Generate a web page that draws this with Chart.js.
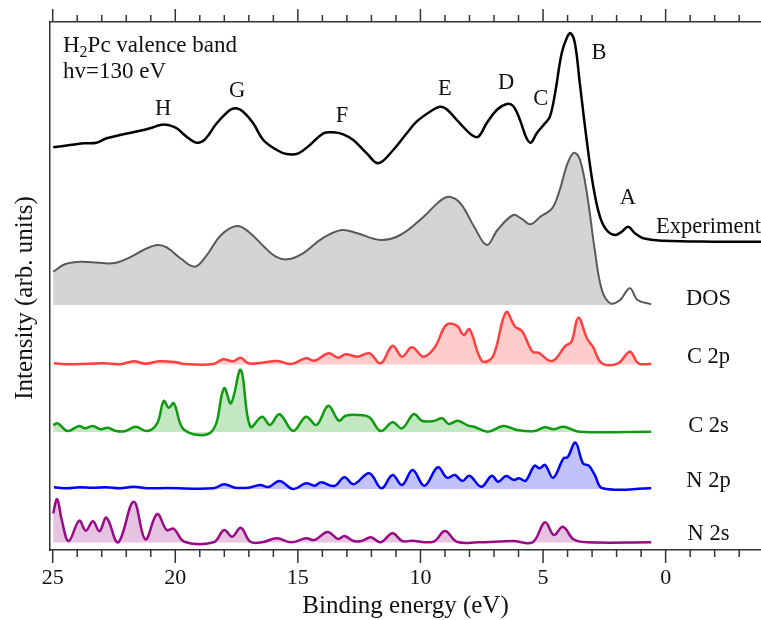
<!DOCTYPE html>
<html>
<head>
<meta charset="utf-8">
<script src="https://cdn.jsdelivr.net/npm/chart.js@4.4.0/dist/chart.umd.min.js"></script>
<style>
  html, body { margin: 0; padding: 0; background: #fff; }
  #wrap { width: 761px; height: 620px; }
</style>
</head>
<body>
<div id="wrap"><canvas id="vbChart" width="761" height="620"></canvas></div>
<script>
// binding energy (eV) / intensity (arb. units, curves stacked with offsets)
const expEnergy = [24.98,24.29,23.75,23.21,22.80,22.12,21.44,21.03,20.62,20.29,19.94,19.54,19.13,18.79,18.31,17.77,17.50,17.23,16.82,16.41,15.86,15.46,14.98,14.51,13.96,13.56,13.15,12.74,12.19,11.72,11.11,10.56,10.16,9.61,9.20,8.93,8.39,7.91,7.64,7.30,6.89,6.48,6.22,5.94,5.67,5.49,5.26,4.92,4.72,4.51,4.24,4.01,3.87,3.70,3.50,3.22,2.95,2.68,2.41,2.07,1.79,1.53,1.25,0.91,0.10,-1.94,-3.9];
const expIntensity = [402.7,405,406.7,407.3,411.7,415.7,419.3,421.7,425,425,421.7,413.3,407.3,410.7,426.7,440,441.7,438.3,426.7,410,400,396,396.7,405,416.7,417.7,415.7,410,396.7,386.7,400,416.7,428.3,438.3,443.3,440.7,426.7,415,413.3,426.7,440,446,444,430,411.7,407.3,416.7,426.7,433.3,456.7,496.7,513.3,516.7,506.7,466.7,410,363.3,333.3,320,315,318.3,323.3,316.7,311.7,309.3,308.3,308.3];

const dosEnergy = [24.98,24.48,23.84,22.57,21.94,21.30,20.74,20.35,19.79,19.21,18.76,18.13,17.49,17.01,16.38,15.90,15.43,14.79,14.00,13.21,12.57,11.62,10.82,9.87,9.24,8.84,8.37,7.81,7.29,6.86,6.22,5.90,5.51,5.11,4.63,4.32,4.00,3.73,3.49,3.21,2.89,2.60,2.25,1.86,1.46,1.14,0.59];
const dosIntensity = [278.3,286,288.3,286.7,291.7,300,305,302.7,291.7,283.3,293.3,315,324,318.3,303.3,293.3,290.7,296.7,311.7,320,316.7,310,315,333.3,348.3,353.3,346.7,323.3,305,320,335,331.7,325.7,333.3,341.7,360,386.7,397.3,390,356.7,300,260,246.7,250,261.7,250,245.7];

const c2pEnergy = [24.95,24.32,23.52,22.89,22.25,21.70,21.22,20.67,20.03,19.63,18.44,18.05,17.65,17.33,17.02,16.46,15.82,15.27,14.67,14.32,13.75,13.36,13.05,12.57,12.09,11.62,11.14,10.75,10.35,9.87,9.40,8.95,8.52,8.24,8.00,7.49,7.05,6.51,6.14,5.86,5.43,5.19,4.63,4.08,3.84,3.56,3.21,2.97,2.60,1.94,1.46,1.11,0.59];
const c2pIntensity = [186.7,185.7,186.3,186.7,185.7,188.7,186.3,188.7,188,186,186,190.7,188.7,192.3,186.7,187.3,189,186,191.7,189.3,196.7,192.3,195.7,193.3,196.7,186.7,204.3,193.3,202.7,193.3,203.3,225,224.3,215,220.7,189,193.3,237.7,223.3,219,198.3,197.3,189,204.3,208.3,232.3,211.7,203.3,186.7,186.7,198.3,186.7,186];

const c2sEnergy = [24.98,24.79,24.40,23.92,23.68,23.36,23.05,22.76,22.41,22.02,21.62,21.14,20.74,20.47,20.27,20.06,19.63,18.52,18.01,17.73,17.33,16.94,16.46,16.14,15.75,15.19,14.67,14.24,13.76,13.33,13.05,12.57,12.09,11.62,11.14,10.75,10.27,9.95,9.47,9.11,8.84,8.48,8.05,7.81,7.25,6.62,6.06,5.35,4.92,4.56,4.16,3.52,0.59];
const c2sIntensity = [125,126.7,119,124,121.7,124,120.7,122.3,119,119,123.3,119,126.7,149,142.3,146.7,120,118.3,161.7,146.7,180,123.3,133.3,125,135.7,119,133.3,125,144.3,129.3,134.3,135,132.7,119,127.7,121.7,136,129.3,129,131.7,126,129.3,124.3,123.3,118.3,124,120,119,122.7,120.7,123.3,118.3,118.3];

const n2pEnergy = [24.95,24.40,23.92,23.36,22.81,22.25,21.70,21.14,20.35,18.44,18.01,17.57,17.02,16.54,16.19,15.75,15.19,14.67,14.32,14.05,13.52,13.10,12.73,12.09,11.59,11.14,10.75,10.32,9.84,9.29,8.92,8.60,8.29,8.00,7.52,7.09,6.83,6.51,6.19,5.98,5.71,5.35,5.14,4.92,4.59,4.16,4.00,3.68,3.37,3.13,2.89,2.57,0.59];
const n2pIntensity = [62.7,61.7,62.7,62.3,62.7,61.7,63.3,61.7,62,61.7,65.7,62.3,62.3,65,63,69,61,66.7,64.3,67.7,64,72.7,65.7,76.7,61.7,75,65,80,64.3,82.7,72.3,75,69,74.3,63.3,74.3,68.3,74,70,71.7,69.3,84.3,81.7,85,72.3,91.7,92.7,107.3,86.7,84.3,75,61.7,61.7];

const n2sEnergy = [24.98,24.82,24.63,24.35,23.92,23.65,23.36,23.09,22.81,22.33,21.70,21.22,20.74,20.35,20.06,19.63,18.44,18.01,17.68,17.33,16.94,16.46,15.86,15.27,14.67,14.32,13.79,13.36,13.10,12.73,12.41,12.02,11.62,11.14,10.75,10.35,9.47,9.00,8.52,7.65,6.22,5.43,4.92,4.56,4.19,3.76,3.21,0.59];
const n2sIntensity = [36.7,50.7,30,9,29.3,19.3,28.7,18.7,32.3,7.7,48.3,10.7,36,20,21.3,8.3,7.7,20,13.3,22.3,8.3,7.7,11.7,7.7,11.7,10,18,11,14,9,9,12.7,7.7,16.7,9,9.3,8.3,19,8.3,7.7,9,7.7,27.7,15,23.3,10.7,7.7,7.7];

// baseline of each stacked curve
const baselines = { dos: 245, c2p: 185.5, c2s: 118, n2p: 61, n2s: 7.5 };
// the DOS shading stops after the main band edge
const dosFillEnd = 2.3;

const tickValues = [25,24,23,22,21,20,19,18,17,16,15,14,13,12,11,10,9,8,7,6,5,4,3,2,1,0,-1,-2,-3];
const majorTicks = [25,20,15,10,5,0];

const peakLabels = ['H','G','F','E','D','C','B','A'];
const peakEnergy = [20.50,17.48,13.20,9.00,6.51,5.09,2.72,1.54];
const peakLevel = [435,453,428,455,461,445,491,346];

const curveNames = ['Experiment','DOS','C 2p','C 2s','N 2p','N 2s'];
const curveNameLevel = [317,245,187,118,63,10];

const SERIF = '"Liberation Serif", "Times New Roman", serif';

function curve(energy, intensity) {
  return energy.map((e, i) => ({ x: e, y: intensity[i] }));
}

const tickMarks = {
  id: 'tickMarks',
  afterDraw(chart) {
    const ctx = chart.ctx, area = chart.chartArea, xs = chart.scales.x;
    ctx.save();
    ctx.strokeStyle = '#333';
    ctx.lineWidth = 1.5;
    tickValues.forEach(v => {
      const px = xs.getPixelForValue(v);
      const len = majorTicks.includes(v) ? 13 : 7;
      ctx.beginPath();
      ctx.moveTo(px, area.bottom); ctx.lineTo(px, area.bottom + len);
      ctx.moveTo(px, area.top); ctx.lineTo(px, area.top - len);
      ctx.stroke();
    });
    ctx.restore();
  }
};

const textLabels = {
  id: 'textLabels',
  afterDatasetsDraw(chart) {
    const ctx = chart.ctx, xs = chart.scales.x, ys = chart.scales.y;
    ctx.save();
    ctx.fillStyle = '#111';
    ctx.font = '22.5px ' + SERIF;
    ctx.textBaseline = 'alphabetic';
    ctx.textAlign = 'center';
    peakLabels.forEach((t, i) => ctx.fillText(t, xs.getPixelForValue(peakEnergy[i]), ys.getPixelForValue(peakLevel[i])));
    curveNames.forEach((t, i) => ctx.fillText(t, xs.getPixelForValue(-1.75), ys.getPixelForValue(curveNameLevel[i])));

    // header text, top-left
    ctx.textAlign = 'left';
    ctx.font = '23px ' + SERIF;
    let x = xs.getPixelForValue(24.58);
    const y1 = ys.getPixelForValue(498), y2 = ys.getPixelForValue(472);
    ctx.fillText('H', x, y1);
    x += ctx.measureText('H').width;
    ctx.font = '16px ' + SERIF;
    ctx.fillText('2', x, y1 + 5);
    x += ctx.measureText('2').width;
    ctx.font = '23px ' + SERIF;
    ctx.fillText('Pc valence band', x, y1);
    ctx.fillText('hv=130 eV', xs.getPixelForValue(24.58), y2);

    // y axis title
    ctx.font = '25px ' + SERIF;
    ctx.textAlign = 'center';
    ctx.textBaseline = 'middle';
    ctx.translate(25, 298);
    ctx.rotate(-Math.PI / 2);
    ctx.fillText('Intensity (arb. units)', 0, 0);
    ctx.restore();
  }
};

function lineSet(label, data, color, width, fillValue, fillColor) {
  return {
    label, data,
    borderColor: color, borderWidth: width,
    backgroundColor: fillColor || 'transparent',
    fill: fillValue === null ? false : { value: fillValue },
    pointRadius: 0, tension: 0.38
  };
}

const dosSet = lineSet('DOS', curve(dosEnergy, dosIntensity), '#595959', 2, baselines.dos, '#d4d4d4');
dosSet.segment = { backgroundColor: c => c.p0.parsed.x < dosFillEnd ? 'rgba(255,255,255,0)' : undefined };

new Chart(document.getElementById('vbChart'), {
  type: 'line',
  data: {
    datasets: [
      lineSet('Experiment', curve(expEnergy, expIntensity), '#000', 2.5, null),
      dosSet,
      lineSet('C 2p', curve(c2pEnergy, c2pIntensity), '#ff4040', 2.5, baselines.c2p, '#ffcccc'),
      lineSet('C 2s', curve(c2sEnergy, c2sIntensity), '#109a10', 2.5, baselines.c2s, '#c3e6c3'),
      lineSet('N 2p', curve(n2pEnergy, n2pIntensity), '#0000ff', 2.5, baselines.n2p, '#c2c2fa'),
      lineSet('N 2s', curve(n2sEnergy, n2sIntensity), '#990a88', 2.5, baselines.n2s, '#e6c3e0')
    ]
  },
  options: {
    responsive: false, animation: false, devicePixelRatio: 1,
    layout: { padding: 0 },
    plugins: { legend: { display: false }, tooltip: { enabled: false } },
    scales: {
      x: {
        type: 'linear', position: 'bottom', reverse: true, min: -3.89, max: 25.11,
        afterBuildTicks: s => { s.ticks = tickValues.map(v => ({ value: v })); },
        afterFit: s => { s.height = 70; },
        ticks: {
          autoSkip: false, maxRotation: 0, padding: 15, color: '#111',
          font: { family: SERIF, size: 22 },
          callback: v => majorTicks.includes(v) ? String(v) : ''
        },
        grid: { display: false, drawTicks: false },
        border: { display: true, color: '#333', width: 1.5 },
        title: { display: true, text: 'Binding energy (eV)', color: '#111', font: { family: SERIF, size: 25, lineHeight: 1 }, padding: { top: 0, bottom: 1 } }
      },
      xTop: {
        type: 'linear', position: 'top', reverse: true, min: -3.89, max: 25.11,
        afterFit: s => { s.height = 22; },
        ticks: { display: false },
        grid: { display: false, drawTicks: false },
        border: { display: true, color: '#333', width: 1.5 }
      },
      y: {
        position: 'left', min: 0, max: 528,
        afterFit: s => { s.width = 50; },
        ticks: { display: false },
        grid: { display: false, drawTicks: false },
        border: { display: true, color: '#333', width: 1.5 },
        title: { display: false }
      }
    }
  },
  plugins: [tickMarks, textLabels]
});
</script>
</body>
</html>
